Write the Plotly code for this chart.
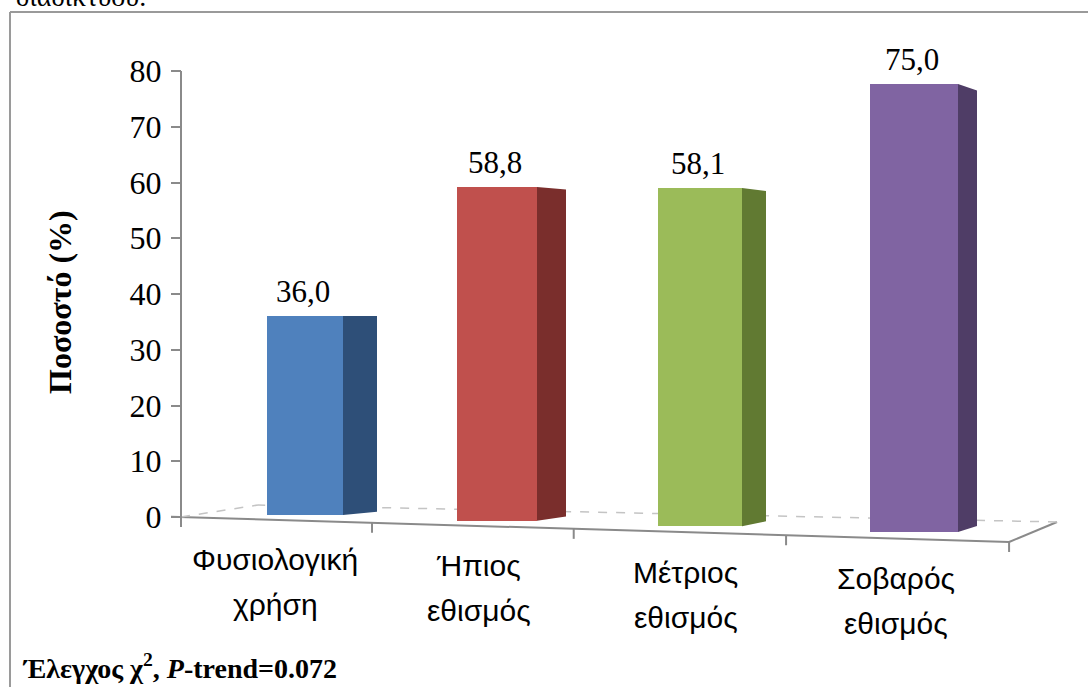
import plotly.graph_objects as go

# ---------------- data ----------------
categories = ["Φυσιολογική\nχρήση", "Ήπιος\nεθισμός", "Μέτριος\nεθισμός", "Σοβαρός\nεθισμός"]
values = [36.0, 58.8, 58.1, 75.0]
y_ticks = [0, 10, 20, 30, 40, 50, 60, 70, 80]
y_title = "Ποσοστό (%)"
note_text = "Έλεγχος χ<sup>2</sup>, <i>P</i>-trend=0.072"
top_text = "διαδικτύου."

# ---------------- styles ----------------
front_colors = ["#4F81BD", "#C0504D", "#9BBB59", "#8064A2"]
side_colors = ["#2E4F78", "#7A2E2C", "#617A32", "#4F3D66"]
axis_grey = "#8A8A8A"
SERIF = "Liberation Serif, Times New Roman, serif"
SANS = "Liberation Sans, Arial, sans-serif"

W, H = 1088, 687
AX_X = 181            # pixel x of value axis
Y0, Y80 = 517, 71     # pixel y of 0 and 80 on value axis
S = (Y0 - Y80) / 80.0
HORIZON = 316         # perspective horizon (pixel y)


def yp(p):
    return 1 - p / H


def xp(p):
    return p / W


def bar_geom(i):
    """perspective geometry of bar i (pixel units)"""
    left = 267 + 184.5 * i + 5.5 * i * i
    fw = 76 + 4 * i
    sw = 34 - 5 * i
    bottom = 515 + 5.67 * i
    scale = 5.528 + 0.148 * i
    k = 0.016 + 0.004 * i
    return left, fw, sw, bottom, scale, k


def front_edge_y(x):
    return 517 + (x - 181) * 25.0 / 829.0


def cat_tick_x(j):
    return 181 + 185.7 * j + 5.33 * j * j


fig = go.Figure()
shapes = []
annotations = []
layout_axes = {}

# floor (drawn below bars)
floor_line = dict(color=axis_grey, width=2)
dash_line = dict(color="#C4C4C4", width=1.5, dash="dash")
fx_end = cat_tick_x(4)
shapes.append(dict(type="line", xref="x", yref="paper", x0=AX_X - 10, y0=yp(front_edge_y(AX_X - 10)),
                   x1=fx_end, y1=yp(front_edge_y(fx_end)), line=floor_line, layer="below"))
shapes.append(dict(type="line", xref="x", yref="paper", x0=fx_end, y0=yp(front_edge_y(fx_end)),
                   x1=1057, y1=yp(522), line=floor_line, layer="below"))
shapes.append(dict(type="line", xref="x", yref="paper", x0=1057, y0=yp(522),
                   x1=258, y1=yp(505), line=dash_line, layer="below"))
shapes.append(dict(type="line", xref="x", yref="paper", x0=AX_X, y0=yp(517),
                   x1=258, y1=yp(505), line=dash_line, layer="below"))
for j in range(len(categories) + 1):
    tx = cat_tick_x(j)
    ty = front_edge_y(tx)
    shapes.append(dict(type="line", xref="x", yref="paper", x0=tx, y0=yp(ty), x1=tx, y1=yp(ty + 10),
                       line=floor_line, layer="below"))

# value axis line (0..80)
shapes.append(dict(type="line", xref="x", yref="y", x0=AX_X, y0=y_ticks[0], x1=AX_X, y1=y_ticks[-1],
                   line=floor_line, layer="above"))

# bars
for i, (cat, v) in enumerate(zip(categories, values)):
    left, fw, sw, bottom, scale, k = bar_geom(i)
    yname = "y%d" % (i + 2)
    layout_axes["yaxis%d" % (i + 2)] = dict(
        overlaying="y", anchor="x", visible=False,
        range=[-(H - bottom) / scale, bottom / scale], fixedrange=True)
    fig.add_trace(go.Bar(
        x=[left + fw / 2], y=[v], width=[fw], yaxis=yname, xaxis="x",
        marker=dict(color=front_colors[i], line=dict(width=0)),
        name=cat.replace("\n", " "), showlegend=False, hoverinfo="skip"))
    # side face
    top = bottom - scale * v
    xr = left + fw
    yb2 = bottom + (HORIZON - bottom) * k
    yt2 = top + (HORIZON - top) * k
    path = "M %f,%f L %f,%f L %f,%f L %f,%f Z" % (
        xr, yp(bottom), xr + sw, yp(yb2), xr + sw, yp(yt2), xr, yp(top))
    shapes.append(dict(type="path", xref="x", yref="paper", path=path,
                       fillcolor=side_colors[i], line=dict(width=0), layer="above"))
    # value label
    annotations.append(dict(
        x=left + fw / 2 - 2, y=v, xref="x", yref=yname, yanchor="bottom", yshift=5,
        text=("%.1f" % v).replace(".", ","), showarrow=False,
        font=dict(family=SERIF, size=31, color="black")))
    # category label (two lines)
    lx = 275 + 202 * i + 1.7 * i * i
    ly = front_edge_y(lx) + 40
    for n, line in enumerate(cat.split("\n")):
        annotations.append(dict(
            x=lx, y=yp(ly + 45 * n), xref="x", yref="paper", yanchor="middle",
            text=line, showarrow=False,
            font=dict(family=SANS, size=30, color="black")))

# y title
annotations.append(dict(x=xp(40), y=yp(302), xref="paper", yref="paper", textangle=-90,
                        text="<b>%s</b>" % y_title, showarrow=False,
                        font=dict(family=SERIF, size=32, color="black")))
# bottom note
annotations.append(dict(x=xp(20), y=yp(666), xref="paper", yref="paper", xanchor="left",
                        yanchor="middle", text="<b>%s</b>" % note_text, showarrow=False,
                        font=dict(family=SERIF, size=28, color="black")))
# cut-off text at very top
annotations.append(dict(x=xp(14), y=yp(-4), xref="paper", yref="paper", xanchor="left",
                        yanchor="middle", text=top_text, showarrow=False,
                        font=dict(family=SERIF, size=28, color="black")))

# frame
frame = dict(color="#9A9A9A", width=2)
shapes.append(dict(type="line", xref="paper", yref="paper", x0=xp(10), y0=yp(12), x1=xp(10), y1=-0.02,
                   line=frame))
shapes.append(dict(type="line", xref="paper", yref="paper", x0=xp(10), y0=yp(12), x1=1.02, y1=yp(12),
                   line=frame))

fig.update_layout(
    width=W, height=H,
    margin=dict(l=0, r=0, t=0, b=0, pad=0),
    paper_bgcolor="white", plot_bgcolor="rgba(0,0,0,0)",
    xaxis=dict(range=[0, W], domain=[0, 1], visible=False, fixedrange=True),
    yaxis=dict(range=[-(H - Y0) / S, Y0 / S], domain=[0, 1], anchor="free", position=xp(AX_X),
               tickmode="array", tickvals=y_ticks, ticktext=[str(t) for t in y_ticks],
               ticks="outside", ticklen=10, tickwidth=2, tickcolor=axis_grey,
               showline=False, showgrid=False, zeroline=False, fixedrange=True,
               ticklabelstandoff=3,
               tickfont=dict(family=SERIF, size=32, color="black")),
    shapes=shapes, annotations=annotations,
    bargap=0, showlegend=False,
    **layout_axes,
)

fig.write_html("out.html")
